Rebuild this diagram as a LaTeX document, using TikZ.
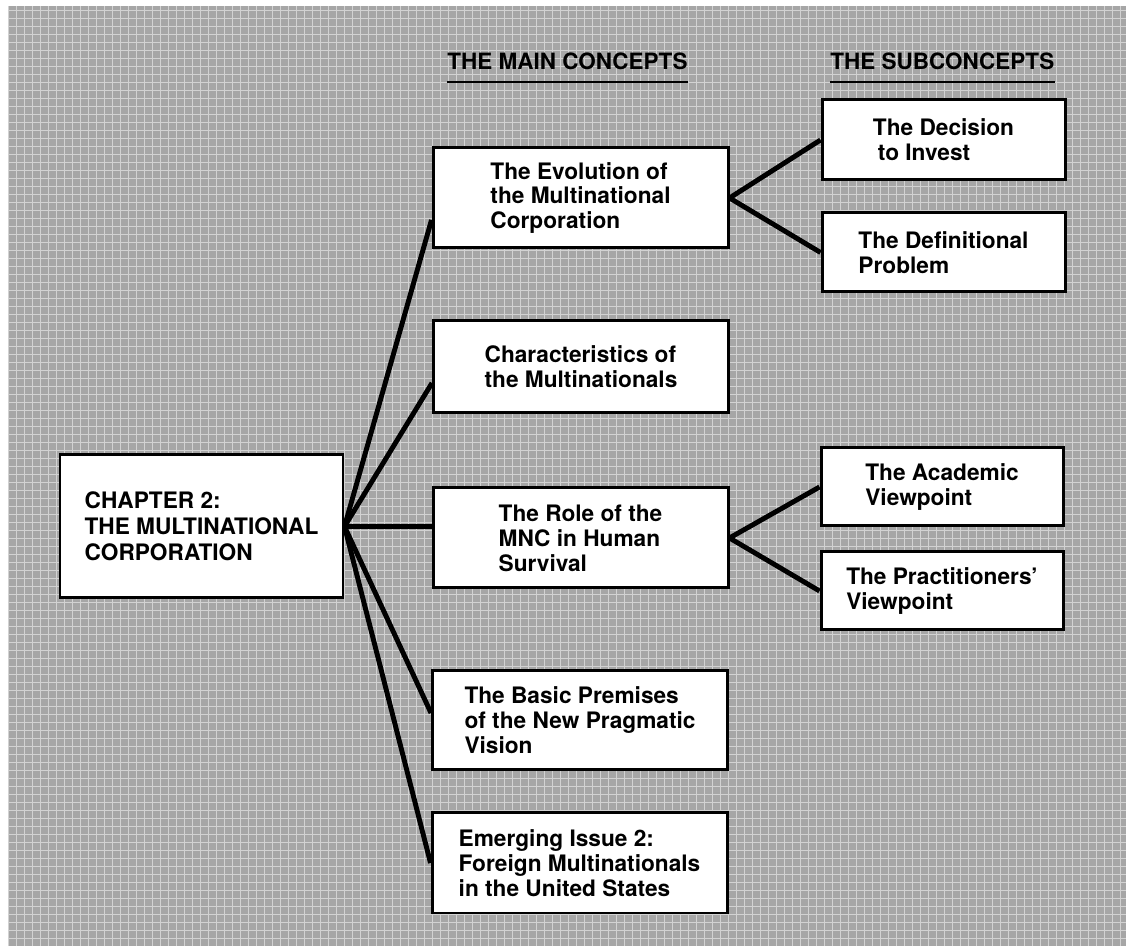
\documentclass[tikz,border=0pt]{standalone}
\usepackage{fontspec}
\setmainfont{TeX Gyre Heros}

\begin{document}
\begin{tikzpicture}[
		box/.style={draw, line width=1.7pt, fill=white, align=left, inner sep=0pt,
			font=\fontsize{12.9}{14.2}\selectfont\bfseries},
		concept/.style={box, minimum width=5.9cm, minimum height=2cm},
		subconcept/.style={box, minimum width=4.86cm, minimum height=1.58cm},
		heading/.style={inner sep=0pt, font=\fontsize{12.8}{14}\selectfont\bfseries},
		link/.style={line width=2.8pt}
	]
	\useasboundingbox (0,0) rectangle (22.52,18.92);
	% screened background
	\fill[black!35] (0.16,0) rectangle (22.52,18.8);
	\draw[white, opacity=0.5, line width=0.4pt, step=0.16cm] (0.16,0) grid (22.52,18.8);

	% column headings
	\node[heading, anchor=base west] (mainhead) at (8.94,17.52) {THE MAIN CONCEPTS};
	\node[heading, anchor=base west] (subhead) at (16.6,17.52) {THE SUBCONCEPTS};
	\foreach \h in {mainhead,subhead} {
		\draw[line width=1.2pt] ([yshift=-0.22cm]\h.south west) -- ([yshift=-0.22cm]\h.south east);
	}

	% chapter
	\node[box, minimum width=5.66cm, minimum height=2.86cm,
		font=\fontsize{12.9}{14.8}\selectfont\bfseries] (chap) at (4.03,8.39)
		{CHAPTER 2:\\THE MULTINATIONAL\\CORPORATION};

	% main concepts
	\node[concept] (evo) at (11.61,14.96) {The Evolution of\\the Multinational\\Corporation};
	\node[concept, minimum height=1.84cm] (char) at (11.62,11.58) {Characteristics of\\the Multinationals};
	\node[concept] (role) at (11.61,8.16) {The Role of the\\MNC in Human\\Survival};
	\node[concept, minimum height=1.98cm] (basic) at (11.6,4.51) {The Basic Premises\\of the New Pragmatic\\Vision};
	\node[concept] (emerg) at (11.59,1.66) {Emerging Issue 2:\\Foreign Multinationals\\in the United States};

	% subconcepts
	\node[subconcept, minimum height=1.6cm] (decision) at (18.87,16.12) {The Decision\\\hspace*{0.1cm}to Invest};
	\node[subconcept] (defin) at (18.87,13.87) {The Definitional\\Problem};
	\node[subconcept, minimum width=4.84cm, minimum height=1.56cm] (academic) at (18.84,9.18) {The Academic\\Viewpoint};
	\node[subconcept, minimum width=4.84cm, minimum height=1.56cm] (pract) at (18.84,7.1) {The Practitioners'\\Viewpoint};

	% connectors
	\foreach \m/\s in {evo/-0.44, char/-0.32, basic/0.15, emerg/0} {
		\draw[link] (chap.east) -- ([yshift=\s cm]\m.west);
	}
	\draw[link] (chap.east) -- (chap.east -| role.west);
	\foreach \p/\c in {evo/decision, evo/defin, role/academic, role/pract} {
		\draw[link] (\p.east) -- (\c.west);
	}
\end{tikzpicture}
\end{document}
